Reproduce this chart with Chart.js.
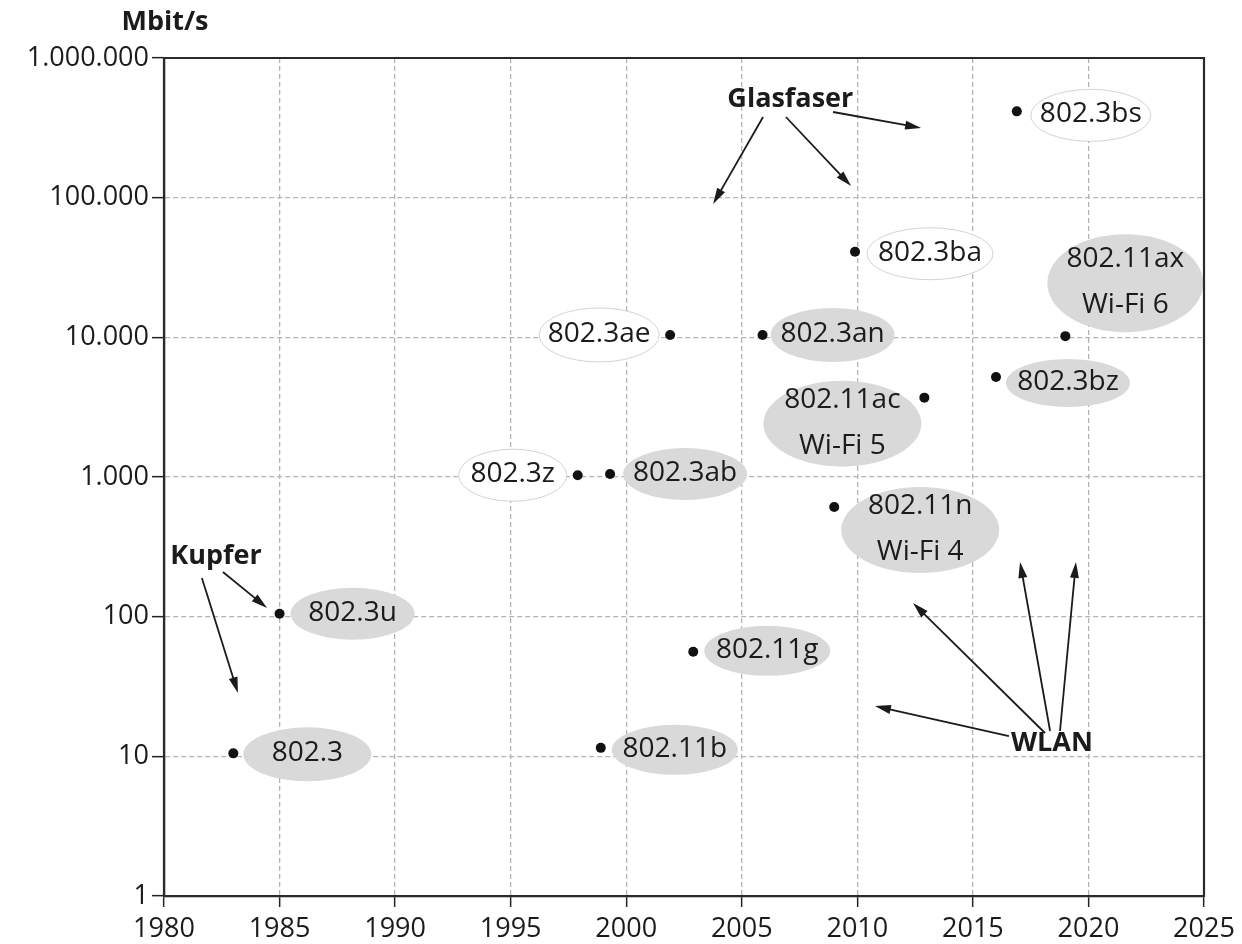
<!DOCTYPE html>
<html>
<head>
<meta charset="utf-8">
<script src="https://cdn.jsdelivr.net/npm/chart.js@4.4.0/dist/chart.umd.min.js"></script>
<style>
  html, body { margin: 0; padding: 0; background: #ffffff; }
  #wrap { width: 1242px; height: 944px; position: relative; }
</style>
</head>
<body>
<div id="wrap"><canvas id="c" width="1242" height="944"></canvas></div>
<script>
// ---- data ----
const standards = ['802.3', '802.3u', '802.11b', '802.11g', '802.3z', '802.3ab', '802.3ae', '802.3an',
                   '802.11n', '802.11ac', '802.3bz', '802.11ax', '802.3ba', '802.3bs'];
const years     = [1983, 1985, 1998.9, 2002.9, 1997.9, 1999.3, 2001.9, 2005.9,
                   2009, 2012.9, 2016, 2019, 2009.9, 2016.9];
const mbits     = [10.5, 105, 11.5, 56, 1030, 1050, 10400, 10400,
                   610, 3700, 5200, 10200, 41000, 415000];
const xTicks    = [1980, 1985, 1990, 1995, 2000, 2005, 2010, 2015, 2020, 2025];
const yTicks    = [1, 10, 100, 1000, 10000, 100000, 1000000];
const yTitle    = 'Mbit/s';

// group labels and arrows in data coordinates [year, Mbit/s]
const groupNames  = ['Glasfaser', 'Kupfer', 'WLAN'];
const groupLabelAt = [[2007.1, 508800], [1982.25, 272], [2018.42, 12.46]];
const groupArrows = [
  [[[2005.92, 378100], [2003.76, 90100]], [[2006.91, 378100], [2009.73, 121000]], [[2008.95, 410600], [2012.76, 315400]]],
  [[[1982.55, 208.8], [1984.46, 115.4]], [[1981.64, 189.2], [1983.2, 28.4]]],
  [[[2016.56, 13.98], [2010.76, 22.93]], [[2018.12, 14.69], [2012.41, 125.3]], [[2018.34, 15.19], [2017.04, 246.3]], [[2018.77, 15.19], [2019.46, 246.3]]]
];

// ---- label bubble layout (pixel offsets from the point, sizes, fill) ----
const bubbleStyle = {
  '802.3':   { lines: ['802.3'],   dx: 74,  dy: 1,   rx: 64, ry: 27, fill: 'grey' },
  '802.3u':  { lines: ['802.3u'],  dx: 73,  dy: 0,   rx: 62, ry: 26, fill: 'grey' },
  '802.11b': { lines: ['802.11b'], dx: 74,  dy: 2,   rx: 63, ry: 25, fill: 'grey' },
  '802.11g': { lines: ['802.11g'], dx: 74,  dy: -1,  rx: 63, ry: 25, fill: 'grey' },
  '802.3z':  { lines: ['802.3z'],  dx: -65, dy: 0,   rx: 54, ry: 26, fill: 'white' },
  '802.3ab': { lines: ['802.3ab'], dx: 75,  dy: 0,   rx: 62, ry: 26, fill: 'grey' },
  '802.3ae': { lines: ['802.3ae'], dx: -71, dy: 0,   rx: 60, ry: 27, fill: 'white' },
  '802.3an': { lines: ['802.3an'], dx: 70,  dy: 0,   rx: 62, ry: 27, fill: 'grey' },
  '802.11n': { lines: ['802.11n', 'Wi-Fi 4'], dx: 86, dy: 23, rx: 79, ry: 43, fill: 'grey' },
  '802.11ac':{ lines: ['802.11ac', 'Wi-Fi 5'], dx: -82, dy: 26, rx: 79, ry: 43, fill: 'grey' },
  '802.3bz': { lines: ['802.3bz'], dx: 72,  dy: 6,   rx: 62, ry: 24, fill: 'grey' },
  '802.11ax':{ lines: ['802.11ax', 'Wi-Fi 6'], dx: 60, dy: -53, rx: 78, ry: 49, fill: 'grey' },
  '802.3ba': { lines: ['802.3ba'], dx: 75,  dy: 2,   rx: 63, ry: 26, fill: 'white' },
  '802.3bs': { lines: ['802.3bs'], dx: 74,  dy: 4,   rx: 60, ry: 26, fill: 'white' }
};

const FONT = '"Open Sans", "Noto Sans", sans-serif';
const INK = '#1b1b1b';

function deFormat(v) {
  return String(Math.round(v)).replace(/\B(?=(\d{3})+(?!\d))/g, '.');
}

const points = years.map((y, i) => ({ x: y, y: mbits[i] }));

function drawArrow(ctx, x1, y1, x2, y2) {
  const ang = Math.atan2(y2 - y1, x2 - x1);
  const hl = 16, hw = 4.5;
  const bx = x2 - hl * Math.cos(ang), by = y2 - hl * Math.sin(ang);
  ctx.beginPath();
  ctx.moveTo(x1, y1);
  ctx.lineTo(bx + 2 * Math.cos(ang), by + 2 * Math.sin(ang));
  ctx.lineWidth = 1.8;
  ctx.strokeStyle = INK;
  ctx.stroke();
  ctx.beginPath();
  ctx.moveTo(x2, y2);
  ctx.lineTo(bx - hw * Math.sin(ang), by + hw * Math.cos(ang));
  ctx.lineTo(bx + hw * Math.sin(ang), by - hw * Math.cos(ang));
  ctx.closePath();
  ctx.fillStyle = INK;
  ctx.fill();
}

const decorPlugin = {
  id: 'decor',
  beforeDatasetsDraw(chart) {
    const ctx = chart.ctx, xs = chart.scales.x, ys = chart.scales.y, a = chart.chartArea;
    ctx.save();
    standards.forEach((name, i) => {
      const st = bubbleStyle[name];
      const px = xs.getPixelForValue(years[i]), py = ys.getPixelForValue(mbits[i]);
      const cx = px + st.dx, cy = py + st.dy;
      ctx.beginPath();
      ctx.ellipse(cx, cy, st.rx, st.ry, 0, 0, Math.PI * 2);
      if (st.fill === 'grey') {
        ctx.fillStyle = '#d9d9d9';
        ctx.fill();
      } else {
        ctx.fillStyle = '#ffffff';
        ctx.fill();
        ctx.lineWidth = 0.8;
        ctx.strokeStyle = '#c8c8c8';
        ctx.stroke();
      }
      ctx.fillStyle = INK;
      ctx.font = '28px ' + FONT;
      ctx.textAlign = 'center';
      ctx.textBaseline = 'middle';
      const n = st.lines.length, lh = 46;
      st.lines.forEach((t, k) => {
        ctx.fillText(t, cx, cy + (k - (n - 1) / 2) * lh - 1);
      });
    });
    ctx.restore();
  },
  afterDraw(chart) {
    const ctx = chart.ctx, xs = chart.scales.x, ys = chart.scales.y, a = chart.chartArea;
    ctx.save();
    // frame
    ctx.setLineDash([]);
    ctx.strokeStyle = '#2a2a2a';
    ctx.lineWidth = 2.2;
    ctx.beginPath();
    ctx.moveTo(a.left, a.bottom);
    ctx.lineTo(a.left, a.top);
    ctx.lineTo(a.right, a.top);
    ctx.lineTo(a.right, a.bottom);
    ctx.lineTo(a.left, a.bottom);
    ctx.stroke();
    // arrows
    groupArrows.forEach(list => list.forEach(([p, q]) => {
      drawArrow(ctx, xs.getPixelForValue(p[0]), ys.getPixelForValue(p[1]),
                     xs.getPixelForValue(q[0]), ys.getPixelForValue(q[1]));
    }));
    // group labels
    ctx.fillStyle = INK;
    ctx.font = 'bold 27px ' + FONT;
    ctx.textAlign = 'center';
    ctx.textBaseline = 'middle';
    groupNames.forEach((g, i) => {
      ctx.fillText(g, xs.getPixelForValue(groupLabelAt[i][0]), ys.getPixelForValue(groupLabelAt[i][1]));
    });
    // y title
    ctx.fillText(yTitle, a.left + 1, a.top - 36);
    ctx.restore();
  }
};

new Chart(document.getElementById('c'), {
  type: 'scatter',
  data: {
    datasets: [{
      data: points,
      pointRadius: 5,
      pointHoverRadius: 5,
      pointBackgroundColor: '#111',
      pointBorderWidth: 0
    }]
  },
  options: {
    responsive: false,
    animation: false,
    events: [],
    layout: { padding: { top: 58, right: 38, left: 0, bottom: 0 } },
    plugins: { legend: { display: false }, tooltip: { enabled: false } },
    scales: {
      x: {
        type: 'linear',
        min: xTicks[0], max: xTicks[xTicks.length - 1],
        afterBuildTicks: s => { s.ticks = xTicks.map(v => ({ value: v })); },
        afterFit: s => { s.height = 48; },
        ticks: { callback: v => String(v), font: { family: FONT, size: 27 }, color: INK, padding: 6, maxRotation: 0, autoSkip: false },
        grid: { color: '#b4b4b4', lineWidth: 1.3, tickLength: 11, tickColor: '#222', tickWidth: 1.5, tickBorderDash: [] },
        border: { color: '#222', width: 2.2, dash: [5, 3] }
      },
      y: {
        type: 'logarithmic',
        min: yTicks[0], max: yTicks[yTicks.length - 1],
        afterBuildTicks: s => { s.ticks = yTicks.map(v => ({ value: v, major: true })); },
        afterFit: s => { s.width = 164; },
        ticks: { callback: v => deFormat(v), font: { family: FONT, size: 27 }, color: INK, padding: 3, autoSkip: false },
        grid: { color: '#b4b4b4', lineWidth: 1.3, tickLength: 12, tickColor: '#222', tickWidth: 1.5, tickBorderDash: [] },
        border: { color: '#222', width: 2.2, dash: [5, 3] }
      }
    }
  },
  plugins: [decorPlugin]
});
</script>
</body>
</html>
